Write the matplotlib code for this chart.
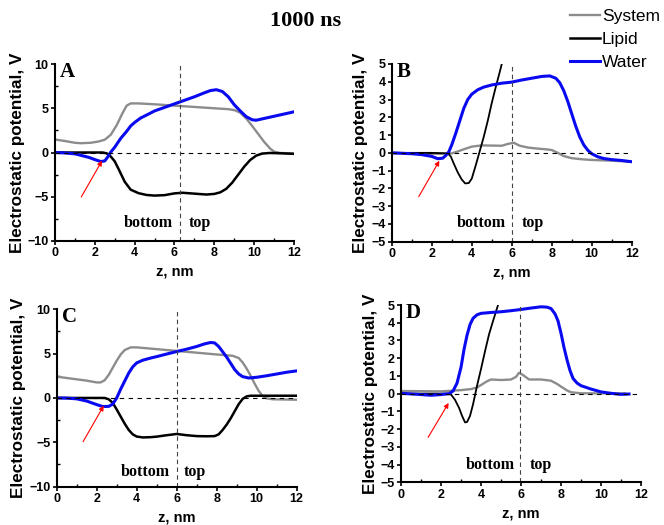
import matplotlib
matplotlib.use('Agg')
from matplotlib import pyplot as plt
from matplotlib.ticker import MultipleLocator

# potential profiles along the membrane normal, 1000 ns
# panel A
a_sys_z = [0, 0.5, 1.0, 1.3, 1.8, 2.2, 2.5, 2.8, 3.1, 3.4, 3.6, 3.8, 4.2, 5.0, 6.0, 7.0, 8.0, 8.7, 9.0, 9.3, 9.6, 9.9, 10.2, 10.5, 10.8, 11.0, 11.3, 12]
a_sys_v = [1.47, 1.3, 1.1, 1.05, 1.1, 1.25, 1.45, 2.0, 3.1, 4.5, 5.3, 5.55, 5.55, 5.45, 5.3, 5.15, 5.0, 4.9, 4.8, 4.5, 3.85, 3.0, 2.1, 1.2, 0.45, 0.1, -0.05, -0.12]
a_lip_z = [0, 1.0, 2.4, 2.6, 2.8, 3.0, 3.2, 3.5, 3.8, 4.2, 4.6, 5.0, 5.5, 6.0, 6.4, 7.0, 7.6, 8.0, 8.3, 8.6, 8.9, 9.2, 9.5, 9.8, 10.1, 10.4, 10.8, 11.5, 12]
a_lip_v = [0, 0, 0, -0.1, -0.45, -1.0, -1.9, -3.3, -4.2, -4.6, -4.8, -4.87, -4.82, -4.62, -4.55, -4.65, -4.75, -4.68, -4.5, -4.1, -3.4, -2.5, -1.6, -0.85, -0.35, -0.12, -0.05, -0.1, -0.15]
a_wat_z = [0, 0.5, 1.0, 1.7, 2.0, 2.3, 2.5, 2.65, 2.8, 3.0, 3.3, 3.6, 3.8, 4.0, 4.3, 4.7, 5.0, 5.5, 6.0, 6.5, 7.0, 7.5, 7.8, 8.1, 8.4, 8.7, 9.0, 9.3, 9.6, 9.9, 10.1, 10.5, 11.0, 11.5, 12]
a_wat_v = [0, -0.05, -0.15, -0.55, -0.8, -1.02, -0.95, -0.5, 0.05, 0.6, 1.6, 2.4, 3.0, 3.4, 3.9, 4.35, 4.7, 5.1, 5.5, 5.9, 6.3, 6.75, 7.0, 7.1, 6.9, 6.3, 5.4, 4.7, 4.05, 3.7, 3.65, 3.85, 4.1, 4.35, 4.6]

# panel B
b_sys_z = [0, 1.0, 2.0, 2.5, 3.0, 3.3, 3.6, 4.0, 4.5, 5.5, 5.8, 6.1, 6.4, 6.8, 7.2, 7.7, 8.0, 8.3, 8.6, 9.0, 9.5, 10.0, 11.0, 12]
b_sys_v = [0, -0.03, -0.05, -0.05, -0.03, 0.08, 0.2, 0.35, 0.42, 0.4, 0.5, 0.57, 0.4, 0.3, 0.25, 0.2, 0.16, 0.0, -0.18, -0.3, -0.36, -0.4, -0.44, -0.5]
b_lip_z = [0, 1.0, 2.0, 2.8, 2.95, 3.1, 3.3, 3.5, 3.67, 3.85, 4.0, 4.2, 4.4, 4.6, 4.8, 5.0, 5.2, 5.4, 5.5]
b_lip_v = [0, 0, 0, -0.03, -0.2, -0.6, -1.1, -1.5, -1.72, -1.7, -1.45, -0.7, 0.1, 0.9, 1.8, 2.8, 3.7, 4.55, 5.0]
b_wat_z = [0, 1.0, 1.5, 2.0, 2.3, 2.55, 2.7, 2.85, 3.0, 3.2, 3.4, 3.6, 3.8, 4.0, 4.3, 4.6, 5.0, 5.5, 6.0, 6.5, 7.0, 7.5, 7.9, 8.2, 8.4, 8.6, 8.8, 9.0, 9.2, 9.4, 9.6, 9.8, 10.0, 10.3, 10.6, 11.0, 11.5, 12]
b_wat_v = [0, -0.05, -0.1, -0.2, -0.33, -0.3, -0.15, 0.05, 0.45, 1.1, 1.8, 2.5, 3.0, 3.3, 3.55, 3.7, 3.82, 3.92, 3.98, 4.1, 4.2, 4.3, 4.33, 4.2, 3.95, 3.5, 2.9, 2.2, 1.5, 0.9, 0.45, 0.15, -0.05, -0.22, -0.32, -0.38, -0.43, -0.5]

# panel C
c_sys_z = [0, 0.5, 1.0, 1.5, 2.0, 2.2, 2.4, 2.6, 2.8, 3.0, 3.2, 3.4, 3.7, 4.0, 5.0, 6.0, 7.0, 8.0, 8.8, 9.1, 9.3, 9.5, 9.7, 9.9, 10.1, 10.3, 10.5, 10.8, 12]
c_sys_v = [2.4, 2.25, 2.1, 1.95, 1.75, 1.75, 2.0, 2.6, 3.4, 4.2, 4.9, 5.4, 5.7, 5.7, 5.5, 5.3, 5.1, 4.9, 4.75, 4.5, 4.0, 3.3, 2.5, 1.6, 0.8, 0.2, -0.05, -0.15, -0.2]
c_lip_z = [0, 1.0, 2.4, 2.6, 2.8, 3.0, 3.2, 3.4, 3.6, 3.8, 4.0, 4.3, 4.7, 5.0, 5.5, 6.0, 6.5, 7.0, 7.5, 7.9, 8.1, 8.3, 8.5, 8.7, 8.9, 9.1, 9.3, 9.5, 9.7, 10.5, 12]
c_lip_v = [0, 0, 0, -0.15, -0.55, -1.3, -2.1, -2.9, -3.6, -4.1, -4.35, -4.45, -4.42, -4.36, -4.2, -4.06, -4.2, -4.3, -4.32, -4.3, -4.1, -3.6, -3.0, -2.3, -1.5, -0.7, -0.1, 0.18, 0.25, 0.25, 0.25]
c_wat_z = [0, 0.5, 1.0, 1.5, 2.0, 2.3, 2.6, 2.8, 3.0, 3.2, 3.4, 3.6, 3.8, 4.0, 4.3, 4.7, 5.0, 5.5, 6.0, 6.5, 7.0, 7.4, 7.7, 7.9, 8.1, 8.3, 8.5, 8.7, 8.9, 9.1, 9.3, 9.6, 10.0, 10.5, 11.0, 11.5, 12]
c_wat_v = [0, -0.02, -0.1, -0.35, -0.75, -0.97, -0.95, -0.7, 0.0, 1.0, 1.9, 2.8, 3.5, 3.95, 4.25, 4.5, 4.66, 4.95, 5.23, 5.5, 5.8, 6.1, 6.25, 6.2, 5.8, 5.2, 4.6, 3.9, 3.2, 2.7, 2.4, 2.25, 2.33, 2.5, 2.7, 2.9, 3.05]

# panel D
d_sys_z = [0, 1.0, 2.0, 3.0, 3.5, 3.8, 4.0, 4.3, 4.5, 5.0, 5.5, 5.75, 5.9, 6.1, 6.4, 7.0, 7.5, 7.8, 8.0, 8.3, 8.5, 9.0, 10.0, 11.2]
d_sys_v = [0.15, 0.14, 0.13, 0.2, 0.26, 0.35, 0.49, 0.7, 0.8, 0.77, 0.8, 0.95, 1.18, 1.05, 0.8, 0.8, 0.73, 0.55, 0.4, 0.18, 0.08, 0.02, 0.02, 0.02]
d_lip_z = [0, 1.0, 2.3, 2.5, 2.7, 2.9, 3.05, 3.2, 3.3, 3.45, 3.6, 3.8, 4.0, 4.2, 4.4, 4.6, 4.85]
d_lip_v = [0, 0, 0, -0.05, -0.35, -0.8, -1.25, -1.62, -1.6, -1.25, -0.6, 0.45, 1.4, 2.4, 3.35, 4.1, 5.0]
d_wat_z = [0, 1.0, 1.5, 2.0, 2.4, 2.6, 2.8, 3.0, 3.15, 3.3, 3.45, 3.6, 3.8, 4.0, 4.5, 5.0, 5.5, 6.0, 6.5, 7.0, 7.3, 7.5, 7.7, 7.85, 8.0, 8.15, 8.3, 8.45, 8.6, 8.8, 9.0, 9.5, 10.0, 10.5, 11.0, 11.4]
d_wat_v = [0.02, -0.05, -0.09, -0.05, 0, 0.15, 0.6, 1.5, 2.5, 3.3, 3.9, 4.25, 4.45, 4.53, 4.58, 4.62, 4.68, 4.75, 4.83, 4.9, 4.88, 4.8, 4.5, 4.1, 3.4, 2.6, 1.9, 1.3, 0.86, 0.6, 0.45, 0.26, 0.1, 0.02, -0.04, -0.02]

panel_letters = ['A', 'B', 'C', 'D']
series_names = ['System', 'Lipid', 'Water']
split_z = [6.3, 6.0, 6.0, 5.95]
# red arrows pointing at the water minimum: (tail z, tail V, head z, head V)
arrows = [(1.25, -5.3, 2.43, -0.66), (1.28, -2.6, 2.45, -0.31),
          (1.25, -5.2, 2.42, -0.6), (1.28, -2.6, 2.45, -0.39)]

profiles = [
    ((a_sys_z, a_sys_v), (a_lip_z, a_lip_v), (a_wat_z, a_wat_v)),
    ((b_sys_z, b_sys_v), (b_lip_z, b_lip_v), (b_wat_z, b_wat_v)),
    ((c_sys_z, c_sys_v), (c_lip_z, c_lip_v), (c_wat_z, c_wat_v)),
    ((d_sys_z, d_sys_v), (d_lip_z, d_lip_v), (d_wat_z, d_wat_v)),
]

sans = 'Liberation Sans'
serif = 'Liberation Serif'

fig = plt.figure(figsize=(6.64, 5.25), dpi=100)

# axes boxes in figure fractions
boxes = [[0.0828, 0.541, 0.360, 0.337],
         [0.590, 0.5396, 0.3614, 0.3385],
         [0.0854, 0.073, 0.3614, 0.338],
         [0.604, 0.0813, 0.3614, 0.3377]]
ylims = [(-10, 10), (-5, 5), (-10, 10), (-5, 5)]
ymajor = [5, 1, 5, 1]
bottom_pos = [(4.68, -8.0), (4.47, -3.95), (4.42, -8.3), (4.45, -4.0)]
top_pos = [(7.27, -8.0), (7.03, -3.95), (6.92, -8.3), (6.97, -4.0)]
lip_w = [1.8, 1.3, 1.8, 1.3]

handles = []
for k in range(4):
    ax = fig.add_axes(boxes[k])
    (sz, sv), (lz, lv), (wz, wv) = profiles[k]
    h1, = ax.plot(sz, sv, color='#8c8c8c', lw=1.7, solid_joinstyle='round')
    h2, = ax.plot(lz, lv, color='black', lw=lip_w[k], solid_joinstyle='round')
    h3, = ax.plot(wz, wv, color='#0a0af0', lw=2.2, solid_joinstyle='round')
    if k == 0:
        handles = [h1, h2, h3]
    ax.axhline(0, color='black', lw=0.8, ls=(0, (4, 4)))
    ax.axvline(split_z[k], color='#444444', lw=0.8, ls=(0, (4, 3)))
    ax.set_xlim(0, 12)
    ax.set_ylim(*ylims[k])
    ax.spines['top'].set_visible(False)
    ax.spines['right'].set_visible(False)
    ax.spines['left'].set_linewidth(1.5)
    ax.spines['bottom'].set_linewidth(1.5)
    ax.xaxis.set_major_locator(MultipleLocator(2))
    ax.xaxis.set_minor_locator(MultipleLocator(1))
    ax.yaxis.set_major_locator(MultipleLocator(ymajor[k]))
    if k in (0, 2):
        ax.yaxis.set_minor_locator(MultipleLocator(2.5))
    ax.tick_params(which='major', direction='out', length=3, width=1.2, pad=1.5)
    ax.tick_params(which='minor', direction='in', length=2.5, width=1.0)
    for lab in ax.get_xticklabels() + ax.get_yticklabels():
        lab.set_fontfamily(sans)
        lab.set_fontweight('bold')
        lab.set_fontsize(9)
    ax.set_xlabel('z, nm', fontfamily=sans, fontweight='bold', fontsize=10.5, labelpad=4)
    ax.set_ylabel('Electrostatic potential, V', fontfamily=sans, fontweight='bold',
                  fontsize=12.3, labelpad=2)
    ax.text(0.02, 1.01, panel_letters[k], transform=ax.transAxes, ha='left', va='top',
            fontfamily=serif, fontweight='bold', fontsize=15)
    ax.text(*bottom_pos[k], 'bottom', ha='center', va='center', fontfamily=serif,
            fontweight='bold', fontsize=11.5)
    ax.text(*top_pos[k], 'top', ha='center', va='center', fontfamily=serif,
            fontweight='bold', fontsize=11.5)
    tz, tv, hz, hv = arrows[k]
    ax.annotate('', xy=(hz, hv), xytext=(tz, tv),
                arrowprops=dict(arrowstyle='-|>', color='red', lw=0.8,
                                mutation_scale=7))

fig.text(306 / 664, 1 - 21 / 525, '1000 ns', ha='center', va='center',
         fontfamily=serif, fontweight='bold', fontsize=16)

leg = fig.legend(handles, series_names, loc='upper left',
                 bbox_to_anchor=(570 / 664, 1 - 9 / 525), frameon=False,
                 prop={'family': sans, 'size': 12.5}, handlelength=1.75,
                 handletextpad=0.1, labelspacing=0.46, borderpad=0,
                 borderaxespad=0)

fig.savefig('out.png', dpi=100)
